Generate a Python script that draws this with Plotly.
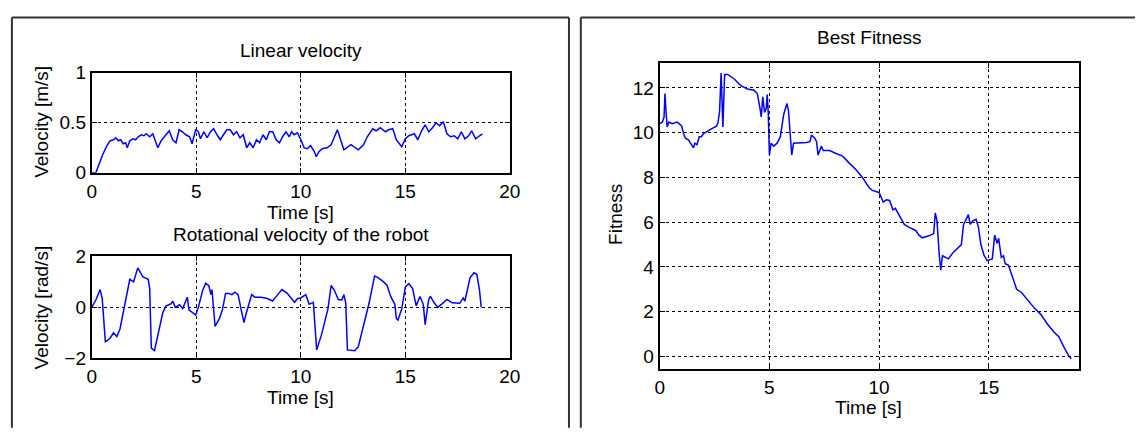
import plotly.graph_objects as go

# ---------------- data ----------------
lin_t = [0, 0.2, 0.25, 0.5, 0.72, 0.88, 1.04, 1.15, 1.27, 1.38, 1.5, 1.62, 1.7, 1.82, 1.98, 2.1, 2.22, 2.37,
         2.5, 2.6, 2.77, 2.92, 3.16, 3.32, 3.55, 3.71, 3.87, 4.03, 4.18, 4.34, 4.5, 4.68, 4.8, 4.97, 5.1,
         5.2, 5.36, 5.52, 5.68, 5.83, 5.99, 6.15, 6.3, 6.46, 6.62, 6.78, 6.93, 7.09, 7.25, 7.41, 7.56,
         7.72, 7.88, 8.03, 8.19, 8.35, 8.5, 8.66, 8.82, 8.98, 9.13, 9.29, 9.45, 9.56, 9.68, 9.84, 10.0,
         10.16, 10.31, 10.47, 10.63, 10.74, 10.87, 11.02, 11.26, 11.45, 11.75, 12.06, 12.4, 12.75, 13.0,
         13.18, 13.44, 13.6, 13.8, 14.05, 14.2, 14.4, 14.57, 14.83, 15.0, 15.17, 15.43, 15.6, 15.78,
         15.95, 16.12, 16.3, 16.47, 16.64, 16.82, 16.99, 17.16, 17.34, 17.51, 17.68, 17.85, 18.03,
         18.17, 18.37, 18.55, 18.69]
lin_v = [0, 0, 0.03, 0.17, 0.27, 0.32, 0.33, 0.35, 0.32, 0.33, 0.29, 0.30, 0.25, 0.32, 0.34, 0.33, 0.36, 0.38,
         0.37, 0.39, 0.36, 0.39, 0.25, 0.32, 0.38, 0.42, 0.33, 0.30, 0.43, 0.41, 0.38, 0.36, 0.29, 0.43, 0.41,
         0.34, 0.41, 0.35, 0.41, 0.44, 0.38, 0.33, 0.38, 0.43, 0.43, 0.38, 0.41, 0.35, 0.38, 0.25, 0.30,
         0.25, 0.33, 0.30, 0.38, 0.33, 0.41, 0.41, 0.33, 0.30, 0.36, 0.41, 0.36, 0.41, 0.38, 0.40, 0.33,
         0.25, 0.24, 0.27, 0.22, 0.16, 0.21, 0.24, 0.25, 0.28, 0.43, 0.23, 0.28, 0.23, 0.28,
         0.36, 0.44, 0.42, 0.45, 0.41, 0.43, 0.44, 0.33, 0.26, 0.34, 0.37, 0.39, 0.33, 0.42,
         0.48, 0.41, 0.45, 0.50, 0.47, 0.51, 0.39, 0.36, 0.37, 0.34, 0.41, 0.34, 0.37,
         0.42, 0.34, 0.37, 0.39]

rot_t = [0, 0.2, 0.4, 0.5, 0.65, 0.75, 0.88, 1.04, 1.2, 1.35, 1.82, 2.0, 2.2, 2.3, 2.45, 2.7, 2.77, 2.85, 3.0,
         3.4, 3.55, 3.8, 3.87, 4.0, 4.2, 4.35, 4.5, 4.57, 4.65, 4.8, 4.97, 5.1, 5.3, 5.45, 5.6, 5.7, 5.75,
         5.9, 6.1, 6.25, 6.4, 6.55, 6.7, 6.85, 7.0, 7.15, 7.28, 7.4, 7.65, 7.8, 8.1, 8.4, 8.65, 8.9, 9.1,
         9.35, 9.5, 9.7, 9.85, 10.0, 10.24, 10.4, 10.6, 10.67, 10.76, 11.0, 11.3, 11.45, 11.6, 11.8, 11.97,
         12.06, 12.15, 12.23, 12.58, 12.75, 13.0, 13.27, 13.53, 13.7, 13.96, 14.13, 14.3, 14.5, 14.57,
         14.65, 14.83, 15.0, 15.17, 15.35, 15.52, 15.7, 15.86, 15.95, 16.12, 16.2, 16.38, 16.55, 16.73,
         16.99, 17.25, 17.6, 17.77, 17.85, 18.1, 18.29, 18.42, 18.55, 18.63]
rot_v = [0, 0.3, 0.7, 0.35, -1.35, -1.3, -1.2, -1.0, -1.15, -0.85, 1.1, 1.0, 1.55, 1.4, 1.2, 1.1, 0.75, -1.6, -1.7,
         -0.2, 0.05, 0.15, 0.25, 0.0, 0.1, -0.05, 0.25, 0.4, -0.1, -0.2, -0.3, 0.0, 0.65, 0.95, 0.85, 0.5, 0.7,
         -0.75, -0.45, -0.1, 0.55, 0.55, 0.5, 0.6, 0.5, -0.1, -0.6, -0.2, 0.5, 0.4, 0.4, 0.35, 0.25, 0.5, 0.7,
         0.55, 0.4, 0.2, 0.35, 0.37, 0.5, 0.12, 0.2, -0.8, -1.67, -1.05, -0.06, 0.86, 0.68, 0.3, 0.3,
         0.5, 0.18, -1.67, -1.7, -1.55, -0.68, 0.18, 1.23, 1.17, 1.0, 0.86, 0.43, 0.12, -0.43,
         -0.5, -0.06, 0.8, 0.93, 0.74, 0.06, 0.43, 0.12, -0.68, 0.31, 0.43, 0.18, 0.0, 0.12,
         0.31, 0.18, 0.16, 0.37, 0.25, 1.17, 1.36, 1.3, 0.68, 0.0]

fit_t = [0, 0.12, 0.2, 0.24, 0.3, 0.34, 0.42, 0.57, 0.8, 1.0, 1.09, 1.17, 1.32, 1.54, 1.6, 1.7, 1.8, 1.9, 2.0,
         2.14, 2.36, 2.6, 2.66, 2.73, 2.8, 2.88, 2.96, 3.1, 3.4, 3.7, 4.0, 4.3, 4.45, 4.57, 4.63, 4.7, 4.78,
         4.86, 4.9, 4.95, 5.0, 5.08, 5.2, 5.35, 5.5, 5.65, 5.8, 5.87, 5.95, 6.02, 6.1, 6.4, 6.7, 6.85, 6.92,
         7.07, 7.15, 7.22, 7.3, 7.37, 7.45, 7.74, 8.04, 8.34, 8.64, 8.94, 9.24, 9.54, 9.69, 10.0, 10.19,
         10.33, 10.48, 10.63, 10.74, 10.86, 11.0, 11.15, 11.37, 11.67, 11.82, 11.97, 12.27, 12.49, 12.56,
         12.64, 12.74, 12.81, 12.89, 13.0, 13.16, 13.38, 13.6, 13.75, 13.85, 13.97, 14.07, 14.15, 14.27,
         14.42, 14.53, 14.64, 14.79, 14.93, 15.16, 15.27, 15.38, 15.45, 15.57, 15.67, 15.75, 15.9, 16.04,
         16.27, 16.49, 16.79, 17.08, 17.38, 17.67, 17.97, 18.19, 18.41, 18.64, 18.76]
fit_v = [10.4, 10.47, 10.7, 11.75, 10.8, 10.25, 10.47, 10.4, 10.47, 10.3, 9.96, 9.75, 9.67, 9.32, 9.53, 9.46, 9.82,
         9.82, 9.96, 10.03, 10.17, 10.3, 10.47, 10.95, 12.66, 10.25, 12.6, 12.6, 12.4, 12.1, 11.95, 11.9, 11.75,
         11.1, 10.7, 11.6, 10.9, 11.1, 11.7, 10.85, 9.0, 9.53, 9.4, 9.53, 9.82, 10.8, 11.3, 11.0, 10.1, 9.0,
         9.53, 9.53, 9.56, 9.6, 9.9, 9.75, 9.6, 9.0, 9.25, 9.4, 9.2, 9.2, 9.07, 8.95, 8.64, 8.35, 8.0, 7.55,
         7.42, 7.33, 6.9, 7.0, 6.97, 6.55, 6.62, 6.4, 6.13, 5.9, 5.77, 5.63, 5.42, 5.3, 5.39, 5.49, 6.41,
         6.06, 4.57, 3.86, 4.5, 4.43, 4.36, 4.65, 4.85, 5.0, 5.9, 6.13, 6.34, 5.9, 6.06,
         6.13, 5.77, 5.0, 4.5, 4.28, 4.36, 5.42, 5.06, 5.28, 4.43, 4.5, 4.14, 4.07, 3.64,
         3.0, 2.86, 2.5, 2.16, 1.87, 1.45, 1.09, 0.88, 0.45, 0.03, -0.1]

vel_x_ticks = [0, 5, 10, 15, 20]
lin_y_ticks = [0, 0.5, 1]
lin_y_labels = ["0", "0.5", "1"]
rot_y_ticks = [-2, 0, 2]
rot_y_labels = ["\u22122", "0", "2"]
fit_x_ticks = [0, 5, 10, 15]
fit_y_ticks = [0, 2, 4, 6, 8, 10, 12]

# ---------------- figure ----------------
W, H = 1141, 434
FONT = "Liberation Sans, Arial, sans-serif"
FS = 19


def px(x):
    return x / W


def py(y):
    return 1 - y / H


line = dict(color="#0000ff", width=1.5)
fig = go.Figure()
fig.add_trace(go.Scatter(x=lin_t, y=lin_v, mode="lines", line=line, xaxis="x", yaxis="y", hoverinfo="skip"))
fig.add_trace(go.Scatter(x=rot_t, y=rot_v, mode="lines", line=line, xaxis="x2", yaxis="y2", hoverinfo="skip"))
fig.add_trace(go.Scatter(x=fit_t, y=fit_v, mode="lines", line=line, xaxis="x3", yaxis="y3", hoverinfo="skip"))

axcommon = dict(
    showline=True, linecolor="black", linewidth=2, mirror="ticks",
    ticks="inside", ticklen=5, tickwidth=1, tickcolor="black",
    showgrid=True, gridcolor="black", gridwidth=1, griddash="dot",
    zeroline=False, tickfont=dict(family=FONT, size=FS, color="black"),
    fixedrange=True,
)

fig.update_layout(
    width=W, height=H, margin=dict(l=0, r=0, t=0, b=0),
    paper_bgcolor="white", plot_bgcolor="white", showlegend=False,
    font=dict(family=FONT, size=FS, color="black"),
    xaxis=dict(axcommon, domain=[px(88), px(512)], range=[0, 20], tickvals=vel_x_ticks, anchor="y"),
    yaxis=dict(axcommon, domain=[py(171), py(66)], range=[0, 1], tickvals=lin_y_ticks,
               ticktext=lin_y_labels, anchor="x"),
    xaxis2=dict(axcommon, domain=[px(88), px(512)], range=[0, 20], tickvals=vel_x_ticks, anchor="y2"),
    yaxis2=dict(axcommon, domain=[py(366), py(259)], range=[-2, 2], tickvals=rot_y_ticks,
                ticktext=rot_y_labels, anchor="x2"),
    xaxis3=dict(axcommon, domain=[px(664), px(1089)], range=[0, 19.1], tickvals=fit_x_ticks, anchor="y3"),
    yaxis3=dict(axcommon, domain=[py(377), py(56)], range=[-0.55, 13.1], tickvals=fit_y_ticks, anchor="x3"),
)

texts = [
    ("Linear velocity", 300, 43, 0),
    ("Time [s]", 300, 213, 0),
    ("Velocity [m/s]", 37, 117, -90),
    ("Rotational velocity of the robot", 300, 236, 0),
    ("Time [s]", 300, 407, 0),
    ("Velocity [rad/s]", 37, 312, -90),
    ("Best Fitness", 877, 29, 0),
    ("Time [s]", 876, 418, 0),
    ("Fitness", 619, 215, -90),
]
for t, x, y, ang in texts:
    fig.add_annotation(text=t, x=px(x), y=py(y), xref="paper", yref="paper", showarrow=False,
                       xanchor="center", yanchor="middle", textangle=ang,
                       font=dict(family=FONT, size=FS, color="black"))

border = dict(color="#333333", width=2)
shapes = [
    (7, 8, 7, H + 5), (7, 8, 572, 8), (572, 8, 572, H + 5),
    (584, 8, 584, H + 5), (584, 8, W + 5, 8),
]
for x0, y0, x1, y1 in shapes:
    fig.add_shape(type="line", xref="paper", yref="paper", x0=px(x0), y0=py(y0), x1=px(x1), y1=py(y1),
                  line=border)

fig.write_html("out.html")
